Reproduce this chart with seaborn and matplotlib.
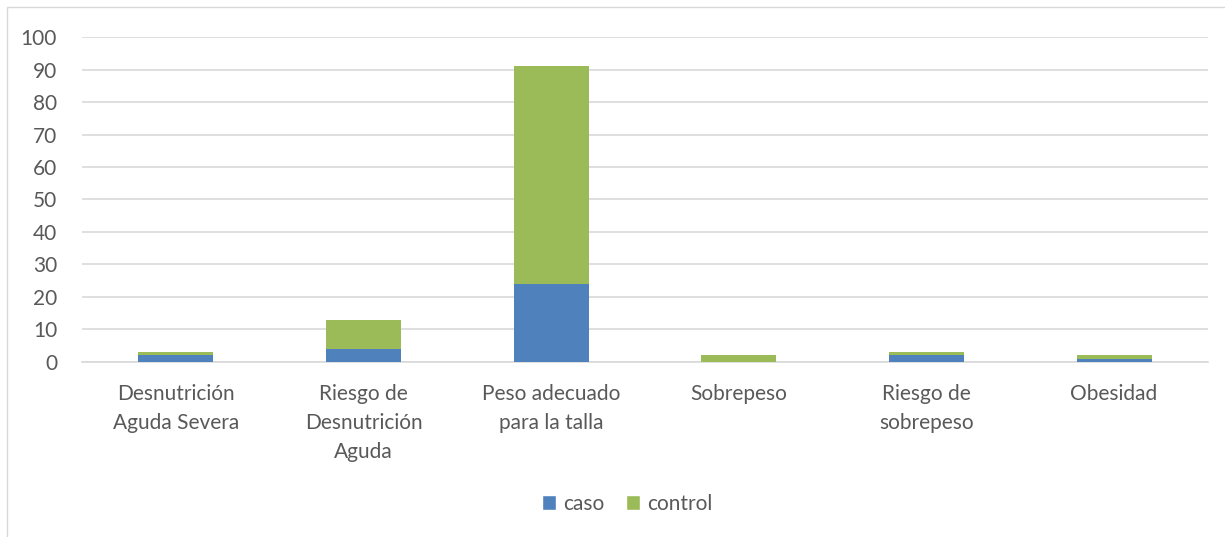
import matplotlib
matplotlib.use("Agg")
import matplotlib.pyplot as plt
from matplotlib.patches import Patch, Rectangle
import seaborn as sns
import pandas as pd

categories = [
    "Desnutrición\nAguda Severa",
    "Riesgo de\nDesnutrición\nAguda",
    "Peso adecuado\npara la talla",
    "Sobrepeso",
    "Riesgo de\nsobrepeso",
    "Obesidad",
]
caso = [2, 4, 24, 0, 2, 1]
control = [1, 9, 67, 2, 1, 1]
y_ticks = [0, 10, 20, 30, 40, 50, 60, 70, 80, 90, 100]

BLUE = "#4F81BD"
GREEN = "#9BBB59"
TEXT = "#595959"
GRID = "#D9D9D9"
FS = 15

sns.set_theme(style="white")
plt.rcParams["font.family"] = ["Lato", "DejaVu Sans"]

df = pd.DataFrame({
    "categoria": categories,
    "caso": caso,
    "total": [a + b for a, b in zip(caso, control)],
})

fig = plt.figure(figsize=(12.25, 5.37), dpi=100)
ax = fig.add_axes([0.067, 0.326, 0.919, 0.605])

# stacked bars: total (control on top) then caso at the base
sns.barplot(data=df, x="categoria", y="total", color=GREEN, width=0.4,
            saturation=1, linewidth=0, ax=ax, zorder=3)
sns.barplot(data=df, x="categoria", y="caso", color=BLUE, width=0.4,
            saturation=1, linewidth=0, ax=ax, zorder=4)

ax.set_ylim(0, 100)
ax.set_yticks(y_ticks)
ax.set_xlim(-0.5, len(categories) - 0.5)
ax.yaxis.grid(True, color=GRID, linewidth=1.2, zorder=0)
ax.set_axisbelow(True)
for side in ["top", "right", "left"]:
    ax.spines[side].set_visible(False)
ax.spines["bottom"].set_color(GRID)
ax.spines["bottom"].set_linewidth(1.2)
ax.set_xlabel("")
ax.set_ylabel("")
ax.tick_params(axis="y", labelsize=FS, colors=TEXT, length=0, pad=18)
ax.tick_params(axis="x", labelsize=FS, colors=TEXT, length=0, pad=16)
for lbl in ax.get_xticklabels():
    lbl.set_linespacing(1.55)
    lbl.set_verticalalignment("top")

handles = [Patch(facecolor=BLUE, label="caso"),
           Patch(facecolor=GREEN, label="control")]
fig.legend(handles=handles, loc="center", bbox_to_anchor=(0.512, 0.062),
           ncol=2, frameon=False, fontsize=FS, labelcolor=TEXT,
           handlelength=0.7, handleheight=0.7, handletextpad=0.35,
           columnspacing=1.0)

# outer chart border
fig.patches.append(Rectangle((7 / 1225, -0.01), 1.0, 1 - 7 / 537 + 0.01,
                             transform=fig.transFigure, fill=False,
                             edgecolor=GRID, linewidth=1.0))

fig.savefig("out.png", dpi=100)
